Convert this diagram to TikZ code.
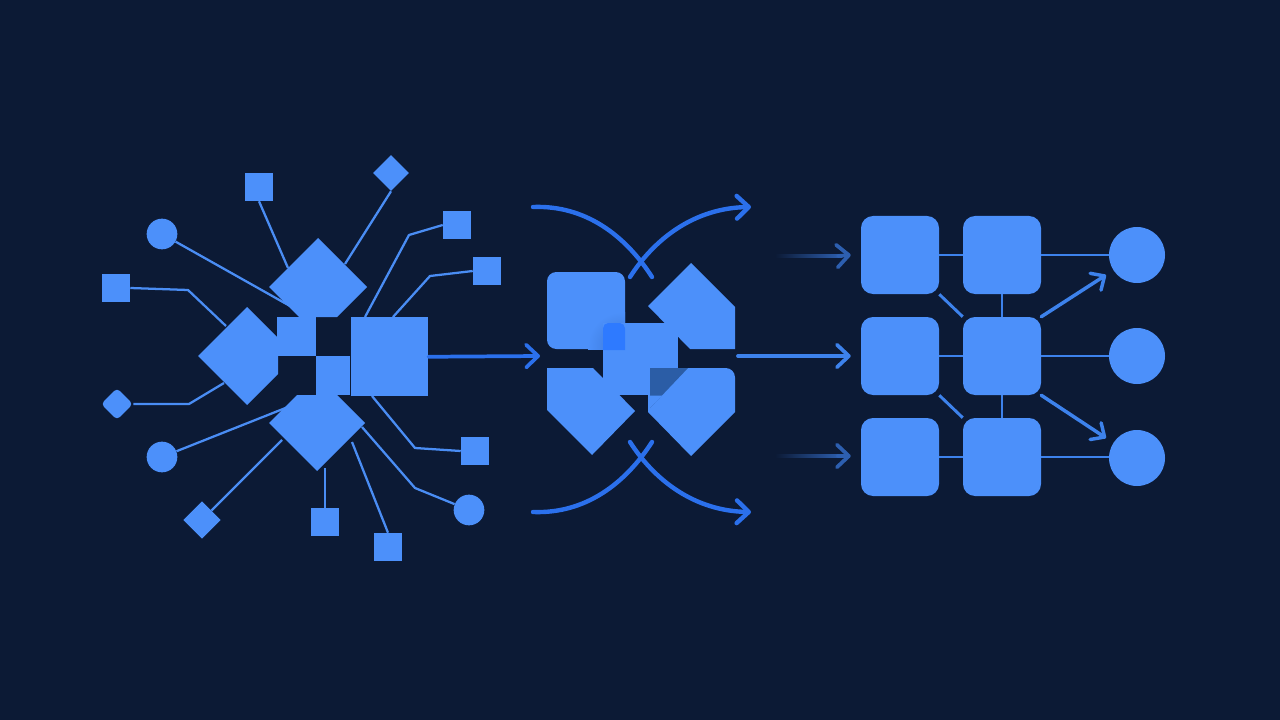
\documentclass[tikz,border=0pt]{standalone}
\usetikzlibrary{arrows.meta,shapes.geometric}
\definecolor{bg}{HTML}{0C1A35}
\definecolor{shapec}{HTML}{4C90FA}
\definecolor{lineL}{HTML}{4A8DF4}
\definecolor{arcc}{HTML}{2B70EC}
\definecolor{arrowdark}{HTML}{2D5FB0}
\definecolor{gline}{HTML}{3D82EC}
\definecolor{hot}{HTML}{2E7AFF}
\definecolor{shadowc}{HTML}{2B5DA6}
\definecolor{softdark}{HTML}{3A76D6}
\pgfdeclarelayer{back}\pgfdeclarelayer{mid}\pgfsetlayers{back,mid,main}
\tikzset{
  sq/.style={rectangle, fill=shapec, minimum size=21pt, inner sep=0pt},
  dot/.style={circle, fill=shapec, minimum size=23pt, inner sep=0pt},
  dia/.style={diamond, fill=shapec, minimum size=#1, inner sep=0pt},
  link/.style={draw=lineL, line width=1.7pt, line join=round},
  tipL/.style={-{Straight Barb[length=9pt,width=17pt,line cap=round,line join=round]}},
  arcline/.style={draw=arcc, line width=3.3pt, line cap=round},
  mainarrow/.style={draw=arcc, line width=2.8pt, line cap=round, tipL},
  gridlink/.style={draw=gline, line width=2.2pt},
  gridarrow/.style={draw=gline, line width=2.6pt, line cap=round, -{Straight Barb[length=8pt,width=15pt,line cap=round,line join=round]}},
  fadearrow/.style={draw=arrowdark, line width=2.8pt, line cap=round, tipL},
  rbox/.style={rectangle, rounded corners=9pt, fill=shapec, minimum size=58.5pt, inner sep=0pt},
  bigdot/.style={circle, fill=shapec, minimum size=42pt, inner sep=0pt},
}
\begin{document}
\begin{tikzpicture}[x=0.75pt,y=-0.75pt]
\begin{pgfonlayer}{back}
\fill[bg] (0,0) rectangle (1280,720);
\end{pgfonlayer}
\useasboundingbox (0,0) rectangle (1280,720);

% ---------- left cluster: satellites ----------
\node[sq] (sqT) at (259,187) {};
\node[dia=27pt] (dTR) at (391,173) {};
\node[sq] (sqTR1) at (457,225) {};
\node[sq] (sqTR2) at (487,271) {};
\node[dot] (cTL) at (162,234) {};
\node[sq] (sqL) at (116,288) {};
\node[dia=24pt, rounded corners=3pt] (dL) at (117,404) {};
\node[dot] (cBL) at (162,457) {};
\node[dia=28pt] (dBL) at (202,520) {};
\node[sq] (sqB) at (325,522) {};
\node[sq] (sqBR) at (388,547) {};
\node[dot] (cR) at (469,510) {};
\node[sq] (sqR) at (475,451) {};

% central shapes
\fill[shapec] (318,238) -- (367,287) -- (337,317) -- (299,317) -- (269,287) -- cycle;
\fill[shapec] (297,395) -- (337,395) -- (365,423) -- (317,471) -- (269,423) -- cycle;
\fill[shapec] (247,307) -- (278,338) -- (278,374) -- (247,405) -- (198,356) -- cycle;
\node[rectangle, fill=shapec, minimum width=29.25pt, minimum height=29.25pt, inner sep=0pt, anchor=north west] (sqC1) at (277,317) {};
\node[rectangle, fill=shapec, minimum width=25.5pt, minimum height=29.25pt, inner sep=0pt, anchor=north west] (sqC2) at (316,356) {};
\node[rectangle, fill=shapec, minimum width=57.75pt, minimum height=59.25pt, inner sep=0pt, anchor=north west] (big) at (351,317) {};

\coordinate (hT1) at (288,268);
\coordinate (hT2) at (345,264);
\coordinate (hT3) at (290,306);
\coordinate (hL1) at (226,326);
\coordinate (hL2) at (224,383);
\coordinate (hB1) at (288,407);
\coordinate (hB2) at (282,440);
\coordinate (hB3) at (325,468);
\coordinate (hB4) at (352,442);
\coordinate (hR1) at (362,427);
\coordinate (hR2) at (372,396);
\coordinate (hR3) at (365,317);
\coordinate (hR4) at (393,317);

\begin{pgfonlayer}{mid}
\draw[link] (sqT.south) -- (hT1);
\draw[link] (dTR.south) -- (hT2);
\draw[link] (cTL) -- (hT3);
\draw[link] (sqL.east) -- (188,290) -- (hL1);
\draw[link] (dL.east) -- (189,404) -- (hL2);
\draw[link] (cBL) -- (hB1);
\draw[link] (dBL) -- (hB2);
\draw[link] (sqB.north) -- (hB3);
\draw[link] (sqBR.north) -- (hB4);
\draw[link] (cR) -- (415,488) -- (hR1);
\draw[link] (sqR.west) -- (415,448) -- (hR2);
\draw[link] (sqTR1.west) -- (409,235) -- (hR3);
\draw[link] (sqTR2.west) -- (430,276) -- (hR4);
\end{pgfonlayer}

% ---------- middle ----------
\coordinate (inM) at (540,356);
\draw[mainarrow] (big.east) -- (inM);

\coordinate (a1s) at (533,207); \coordinate (a1e) at (652,277);
\coordinate (a2s) at (630,277); \coordinate (a2e) at (751,207);
\coordinate (a3s) at (533,512); \coordinate (a3e) at (652,442);
\coordinate (a4s) at (630,442); \coordinate (a4e) at (751,512);
\draw[arcline] (a1s) .. controls (585,205) and (625,235) .. (a1e);
\draw[arcline, tipL] (a2s) .. controls (655,238) and (695,208) .. (a2e);
\draw[arcline] (a3s) .. controls (585,514) and (625,484) .. (a3e);
\draw[arcline, tipL] (a4s) .. controls (655,481) and (695,511) .. (a4e);

\fill[shapec, rounded corners=7pt] (547,272) rectangle (625,349);
\begin{scope}
\clip (547,272) rectangle (625,349);
\shade[inner color=softdark, outer color=shapec] (622,346) circle (34);
\end{scope}
\fill[shapec] (691,263) -- (735,307) -- (735,349) -- (690,349) -- (648,306) -- cycle;
\fill[shapec] (547,368) -- (593,368) -- (635,411) -- (592,455) -- (547,410) -- cycle;
\fill[shapec] (648,368) [rounded corners=7pt] -- (735,368) [sharp corners] -- (735,412) -- (691,456) -- (648,412) -- cycle;
\node[rectangle, fill=shapec, minimum width=56.25pt, minimum height=54pt, inner sep=0pt, anchor=north west] (ctr) at (603,323) {};
\fill[hot] (625,323) -- (625,350) -- (603,350) [rounded corners=4pt] -- (603,323) -- cycle;
\fill[shadowc] (650,368) -- (688,368) -- (650,408) -- cycle;
\fill[shapec] (650,395.5) -- (662,395.5) -- (650,408) -- cycle;
\coordinate (outM) at (738,356);

% ---------- right grid ----------
\node[rbox] (g11) at (900,255) {};
\node[rbox] (g12) at (1002,255) {};
\node[rbox] (g21) at (900,356) {};
\node[rbox] (g22) at (1002,356) {};
\node[rbox] (g31) at (900,457) {};
\node[rbox] (g32) at (1002,457) {};
\node[bigdot] (o1) at (1137,255) {};
\node[bigdot] (o2) at (1137,356) {};
\node[bigdot] (o3) at (1137,458) {};

\begin{pgfonlayer}{mid}
\draw[gridlink] (g11) -- (g12);
\draw[gridlink] (g21) -- (g22);
\draw[gridlink] (g31) -- (g32);
\draw[gridlink] (g12) -- (o1);
\draw[gridlink] (g22) -- (o2);
\draw[gridlink] (g32.east) -- (o3.west |- g32.east);
\draw[gridlink] (g12) -- (g22);
\draw[gridlink] (g22) -- (g32);
\draw[gridlink] (g11.south east) -- (g22.north west);
\draw[gridlink] (g21.south east) -- (g32.north west);
\end{pgfonlayer}
\draw[gridarrow] (g22.north east) -- (1106,275);
\draw[gridarrow] (g22.south east) -- (1106,438);

% incoming arrows to grid
\draw[mainarrow, draw=gline] (outM) -- ([xshift=-7.5pt]g21.west);
\coordinate (f1) at (775,256);
\coordinate (f3) at (775,456);
\fill[left color=bg, right color=arrowdark] (f1) ++(0,-1.8) rectangle (842,257.8);
\fill[left color=bg, right color=arrowdark] (f3) ++(0,-1.8) rectangle (842,457.8);
\draw[fadearrow] (838,256) -- ([xshift=-7.5pt]g11.west);
\draw[fadearrow] (838,456) -- ([xshift=-7.5pt]g31.west |- f3);
\end{tikzpicture}
\end{document}
